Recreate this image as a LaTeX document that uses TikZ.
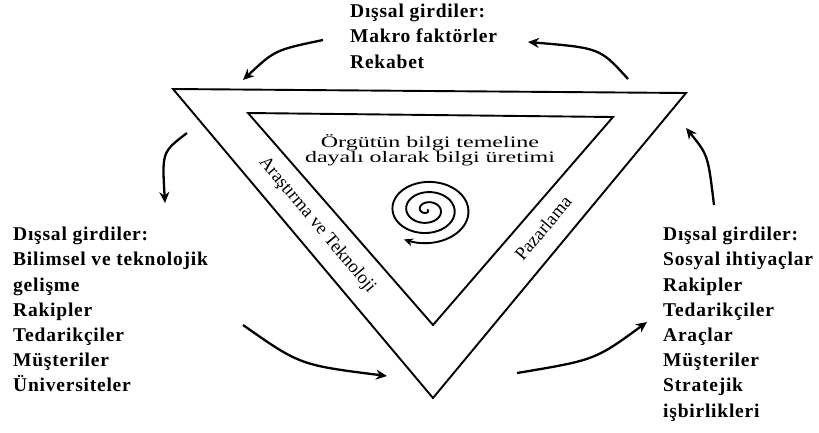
\documentclass[tikz,border=0pt]{standalone}
\usepackage{fontspec}
\usepackage{graphicx}
\newfontfamily\lblfont[LetterSpace=4]{Liberation Serif}
\newfontfamily\scanfont{Liberation Serif}
\usetikzlibrary{arrows.meta}
\begin{document}
\begin{tikzpicture}[x=1pt,y=-1pt,
  lbl/.style={anchor=north west,inner sep=0pt,align=left,
    font=\lblfont\bfseries\fontsize{19.5}{25.2}\selectfont},
  tri/.style={draw=black,line width=1.9pt,line join=miter},
  flow/.style={draw=black,line width=2.3pt,-{Stealth[length=11pt,width=10pt]}},
  band/.style={inner sep=0pt,font=\scanfont\fontsize{18.5}{20}\selectfont}]
\useasboundingbox (0,0) rectangle (819,432);
% triangles
\draw[tri] (173,89) -- (686,93) -- (433,398) -- cycle;
\draw[tri] (248,113) -- (613,117) -- (433,325) -- cycle;
% inner text
\node[inner sep=0pt,align=center,font=\scanfont\fontsize{16}{15}\selectfont] (inner) at (430,150)
  {\scalebox{1.5}[1]{Örgütün bilgi temeline}\\\scalebox{1.5}[1]{dayalı olarak bilgi üretimi}};
% band labels
\node[band,rotate=-50] (ar) at (317,225) {Araştırma ve Teknoloji};
\node[band,rotate=50] (pz) at (543,228) {Pazarlama};
% spiral
\draw[line width=1.9pt,-{Stealth[length=9pt,width=8pt]}]
  plot[domain=0:1200,samples=260,smooth] ({427+46*(\x/1200)*cos(\x)},{210+34*(\x/1200)*sin(\x)});
% outer labels
\node[lbl] (top) at (350,4) {Dışsal girdiler:\\Makro faktörler\\Rekabet};
\node[lbl] (left) at (13,227) {Dışsal girdiler:\\Bilimsel ve teknolojik\\gelişme\\Rakipler\\Tedarikçiler\\Müşteriler\\Üniversiteler};
\node[lbl] (right) at (663,227) {Dışsal girdiler:\\Sosyal ihtiyaçlar\\Rakipler\\Tedarikçiler\\Araçlar\\Müşteriler\\Stratejik\\işbirlikleri};
% arrow end points
\coordinate (a1) at (323,40);  \coordinate (b1) at (243,80);
\coordinate (a2) at (628,79);  \coordinate (b2) at (528,42);
\coordinate (a3) at (714,205); \coordinate (b3) at (686,128);
\coordinate (a4) at (187,133); \coordinate (b4) at (165,203);
\coordinate (a5) at (243,325); \coordinate (b5) at (387,376);
\coordinate (a6) at (517,373); \coordinate (b6) at (647,322);
\draw[flow] (a1) .. controls (275,50) .. (b1);
\draw[flow] (a2) .. controls (600,48) .. (b2);
\draw[flow] (a3) .. controls (708,155) .. (b3);
\draw[flow] (a4) .. controls (162,152) .. (b4);
\draw[flow] (a5) .. controls (300,365) .. (b5);
\draw[flow] (a6) .. controls (595,360) .. (b6);
\end{tikzpicture}
\end{document}
